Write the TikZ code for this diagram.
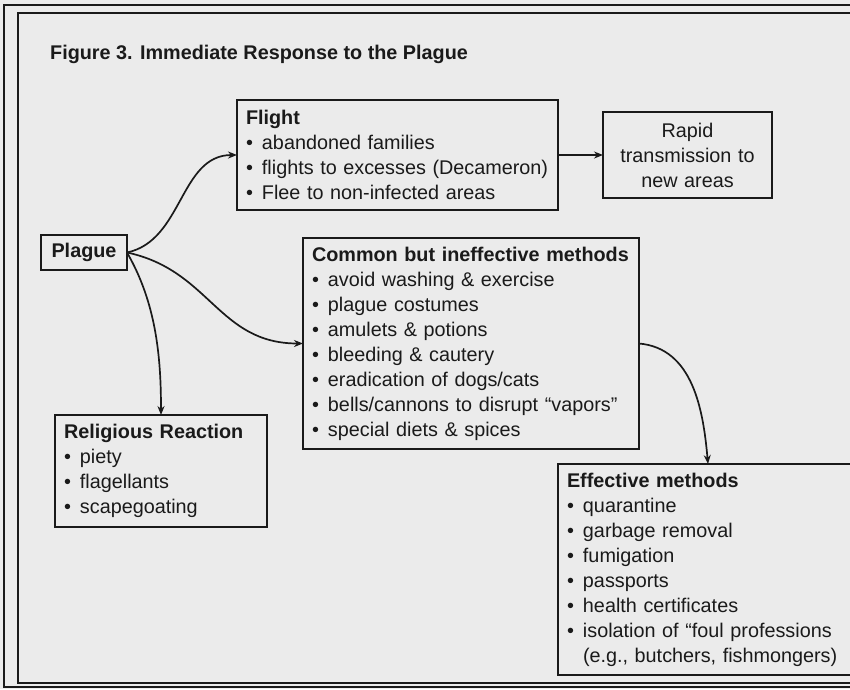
\documentclass[tikz,border=0pt]{standalone}
\usepackage{fontspec}
\setmainfont{Liberation Sans}
\usetikzlibrary{arrows.meta}
\definecolor{paper}{HTML}{EBEBEB}
\definecolor{ink}{HTML}{1A1A1A}
\newcommand{\bl}{\makebox[16pt][l]{•}}
\newcommand{\ind}{\hspace*{16pt}}
\begin{document}
\begin{tikzpicture}[x=1pt,y=-1pt,
  box/.style={draw=ink, line width=1.5pt, fill=paper, anchor=north west, outer sep=0pt,
    align=left, inner xsep=9pt, inner ysep=0pt, text=ink,
    font=\fontsize{19.8}{25}\selectfont},
  conn/.style={draw=ink, line width=1.7pt, -{Stealth[length=9pt,width=7pt]}},
  frame/.style={draw=ink, line width=1.5pt}]
\useasboundingbox (0,0) rectangle (850,689);
\clip (0,0) rectangle (850,689);
\fill[paper] (0,0) rectangle (850,689);
% double frame
\draw[frame] (4,5) rectangle (880,687);
\draw[frame, line width=1.2pt] (18,13) rectangle (880,683);
% title
\node[anchor=base west, inner sep=0pt, text=ink, font=\fontsize{19.8}{24}\selectfont\bfseries] (title) at (50,59)
  {Figure 3. Immediate Response to the Plague};
% boxes
\node[box, minimum width=321pt, minimum height=110pt, text width=303pt] (flight) at (237,100)
  {\textbf{Flight}\\
   \bl abandoned families\\
   \bl flights to excesses (Decameron)\\
   \bl Flee to non-infected areas};
\node[box, align=center, minimum width=169pt, minimum height=86pt, text width=151pt] (rapid) at (603,112)
  {Rapid\\transmission to\\new areas};
\node[box, align=center, minimum width=86pt, minimum height=35pt, inner xsep=0pt] (plague) at (41,235)
  {\textbf{Plague}};
\node[box, minimum width=336pt, minimum height=211pt, text width=318pt] (common) at (303,238)
  {\textbf{Common but ineffective methods}\\
   \bl avoid washing \& exercise\\
   \bl plague costumes\\
   \bl amulets \& potions\\
   \bl bleeding \& cautery\\
   \bl eradication of dogs/cats\\
   \bl bells/cannons to disrupt “vapors”\\
   \bl special diets \& spices};
\node[box, minimum width=212pt, minimum height=112pt, text width=194pt] (religious) at (55,415)
  {\textbf{Religious Reaction}\\
   \bl piety\\
   \bl flagellants\\
   \bl scapegoating};
\node[box, minimum width=300pt, minimum height=211pt, text width=282pt] (effective) at (558,464)
  {\textbf{Effective methods}\\
   \bl quarantine\\
   \bl garbage removal\\
   \bl fumigation\\
   \bl passports\\
   \bl health certificates\\
   \bl isolation of “foul professions\\
   \ind (e.g., butchers, fishmongers)};
% connectors
\draw[conn] (plague.east) to[out=12,in=180] (flight.west);
\draw[conn] (plague.east) to[out=-12,in=180,looseness=1.1] (common.west);
\draw[conn] (plague.east) to[out=-60,in=90,looseness=0.9] (religious.north);
\draw[conn] (flight.east) -- (rapid.west);
\draw[conn] (common.east) to[out=-5,in=95] (effective.north);
\end{tikzpicture}
\end{document}
